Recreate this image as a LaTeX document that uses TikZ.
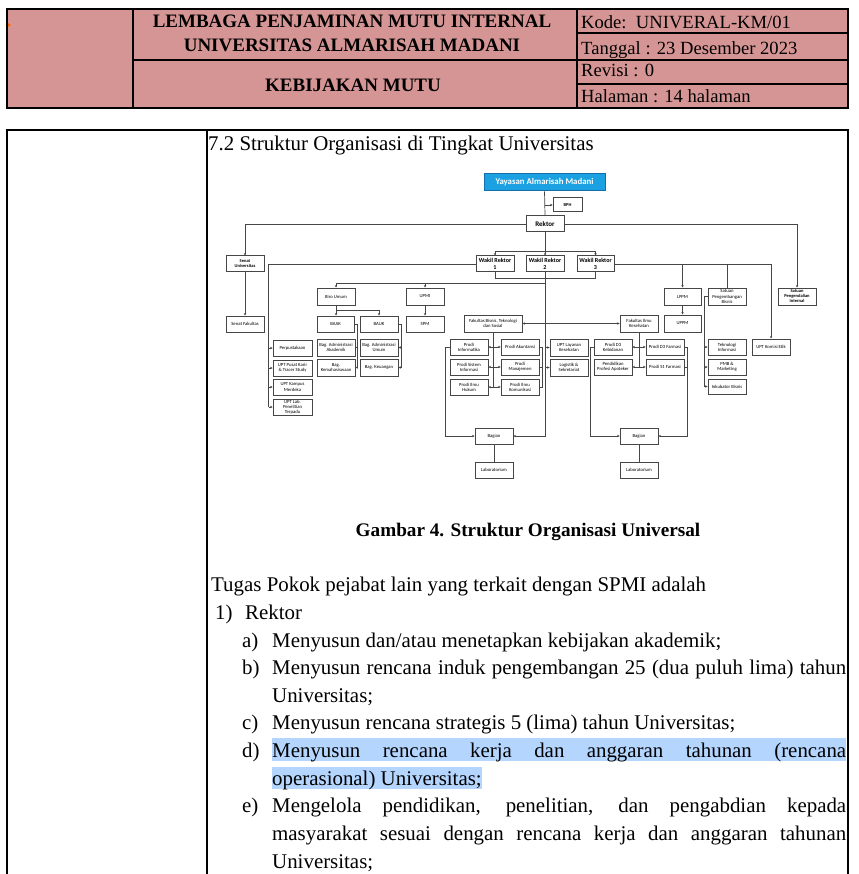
\documentclass[tikz,border=0pt]{standalone}
\usepackage{fontspec}
\setmainfont{Liberation Serif}
\newfontfamily\orgfont{Carlito}
\usetikzlibrary{arrows.meta,calc}
\definecolor{hdr}{RGB}{214,149,149}
\definecolor{yay}{RGB}{27,161,226}
\definecolor{yayb}{RGB}{20,110,170}
\definecolor{hl}{RGB}{180,213,254}
\definecolor{ln}{RGB}{70,70,70}
\newcommand\ob[7][obox]{\node[#1,minimum width={(#5-#3)*1pt},minimum height={(#6-#4)*1pt}] (#2) at ({(#3+#5)/2},{(#4+#6)/2}) {#7};}
\begin{document}
\begin{tikzpicture}[x=1pt,y=-1pt,
 obox/.style={draw=ln,line width=1pt,fill=white,inner sep=0pt,align=center,font=\orgfont\fontsize{4.7}{5.2}\selectfont},
 bbox/.style={obox,font=\orgfont\bfseries\fontsize{4.5}{5}\selectfont},
 wbox/.style={obox,font=\orgfont\bfseries\fontsize{6.1}{6.7}\selectfont},
 con/.style={draw=ln,line width=0.7pt},
 arr/.style={con,-{Stealth[length=2.4pt,width=2.4pt]}},
 tx/.style={inner sep=0pt,anchor=base west,font=\fontsize{20.9}{24}\selectfont},
 hx/.style={inner sep=0pt,anchor=base west,font=\fontsize{18.6}{21}\selectfont},
 hb/.style={inner sep=0pt,anchor=base,font=\bfseries\fontsize{19}{22}\selectfont},
]
\useasboundingbox (0,0) rectangle (858,874);
\fill[white] (0,0) rectangle (858,874);
% ---------- header table ----------
\fill[hdr] (7,9) rectangle (848,108);
\draw[line width=1.3pt] (7,9) rectangle (848,108);
\draw[line width=1.3pt] (133,9) -- (133,108) (577,9) -- (577,108) (133,60) -- (577,60)
  (577,33) -- (848,33) (577,60) -- (848,60) (577,84) -- (848,84);
\fill[orange!80!red] (8,23) -- (11,25) -- (8,27) -- cycle;
\node[hb] (h1) at (352,28) {LEMBAGA PENJAMINAN MUTU INTERNAL};
\node[hb] (h2) at (352,52) {UNIVERSITAS ALMARISAH MADANI};
\node[hb] (h3) at (353,92) {KEBIJAKAN MUTU};
\node[hx] (k1) at (581,29) {Kode:\ \ UNIVERAL-KM/01};
\node[hx] (k2) at (581,55) {Tanggal : 23 Desember 2023};
\node[hx] (k3) at (581,77) {Revisi : 0};
\node[hx] (k4) at (581,103) {Halaman : 14 halaman};
% ---------- body frame ----------
\draw[line width=1.1pt] (7,874) -- (7,130) -- (848,130) -- (848,874);
\draw[line width=1.1pt] (207,130) -- (207,874);
\node[tx] (judul) at (208,151) {7.2 Struktur Organisasi di Tingkat Universitas};
% ---------- org chart boxes ----------
\ob[obox,fill=yay,draw=yayb,font=\orgfont\bfseries\fontsize{8.8}{9.5}\selectfont,text=white]{yay}{484}{174}{605}{191}{Yayasan Almarisah Madani}
\ob[bbox]{bph}{553}{198}{582}{212}{BPH}
\ob[obox,font=\orgfont\bfseries\fontsize{7}{8}\selectfont]{rek}{526}{216}{564}{232}{Rektor}
\ob[bbox]{senu}{226}{256}{264}{272}{Senat\\Universitas}
\ob[wbox]{wr1}{476}{256}{514}{272}{Wakil Rektor\\1}
\ob[wbox]{wr2}{526}{256}{564}{272}{Wakil Rektor\\2}
\ob[wbox]{wr3}{577}{256}{614}{272}{Wakil Rektor\\3}
\ob{biro}{317}{288}{355}{305}{Biro Umum}
\ob{upmi}{406}{288}{444}{305}{UPMI}
\ob{lppm}{664}{288}{701}{305}{LPPM}
\ob{spb}{708}{288}{746}{305}{Satuan\\Pengembangan\\Bisnis}
\ob[bbox]{spi}{778}{288}{816}{305}{Satuan\\Pengendalian\\Internal}
\ob{senf}{226}{316}{264}{332}{Senat Fakultas}
\ob{baak}{317}{316}{354}{332}{BAAK}
\ob{bauk}{360}{316}{398}{332}{BAUK}
\ob{spm}{406}{316}{444}{332}{SPM}
\ob{fbts}{464}{315}{522}{332}{Fakultas Bisnis, Teknologi\\dan Sosial}
\ob{fik}{620}{315}{658}{332}{Fakultas Ilmu\\Kesehatan}
\ob{uppm}{664}{315}{701}{332}{UPPM}
\ob{perp}{273}{340}{312}{356}{Perpustakaan}
\ob{karir}{273}{360}{312}{376}{UPT Pusat Karir\\\& Tracer Study}
\ob{kampus}{273}{379}{312}{395}{UPT Kampus\\Merdeka}
\ob{lab}{273}{399}{312}{415}{UPT Lab.\\Penelitian\\Terpadu}
\ob{bagak}{317}{339}{355}{356}{Bag. Administrasi\\Akademik}
\ob{bagkem}{317}{359}{355}{376}{Bag.\\Kemahasiswaan}
\ob{bagum}{360}{339}{398}{356}{Bag. Administrasi\\Umum}
\ob{bagkeu}{360}{359}{398}{376}{Bag. Keuangan}
\ob{pinf}{450}{339}{488}{355}{Prodi\\Informatika}
\ob{psi}{450}{359}{488}{375}{Prodi Sistem\\Informasi}
\ob{phk}{450}{379}{488}{395}{Prodi Ilmu\\Hukum}
\ob{pak}{501}{339}{539}{355}{Prodi Akuntansi}
\ob{pman}{501}{359}{539}{375}{Prodi\\Manajemen}
\ob{pkom}{501}{379}{539}{395}{Prodi Ilmu\\Komunikasi}
\ob{uptlk}{550}{339}{588}{356}{UPT Layanan\\Kesehatan}
\ob{logis}{550}{359}{588}{376}{Logistik \&\\Sekretariat}
\ob{pkeb}{594}{339}{632}{355}{Prodi D3\\Kebidanan}
\ob{papt}{594}{359}{632}{375}{Pendidikan\\Profesi Apoteker}
\ob{pd3f}{646}{339}{684}{355}{Prodi D3 Farmasi}
\ob{ps1f}{646}{359}{684}{375}{Prodi S1 Farmasi}
\ob{ti}{708}{339}{746}{355}{Teknologi\\Informasi}
\ob{pmb}{708}{359}{746}{375}{PMB \&\\Marketing}
\ob{ink}{708}{379}{746}{394}{Inkubator Bisnis}
\ob{etik}{752}{339}{790}{355}{UPT Komisi Etik}
\ob{bag1}{475}{428}{513}{444}{Bagian}
\ob{lab1}{475}{462}{513}{478}{Laboratorium}
\ob{bag2}{620}{428}{658}{444}{Bagian}
\ob{lab2}{620}{462}{658}{478}{Laboratorium}
% ---------- connectors ----------
\draw[con] (yay.south) -- (rek.north);
\draw[arr] (yay.south |- bph.west) -- (bph.west);
\draw[arr] (rek.west) -| (senu.north);
\draw[arr] (rek.east) -| (spi.north);
\draw[arr] (rek.south) -- (wr2.north);
\coordinate (hw) at ($(wr2.north)+(0,-4)$);
\draw[con] (wr1.north |- hw) -- (wr3.north |- hw);
\draw[arr] (wr1.north |- hw) -- (wr1.north);
\draw[arr] (wr3.north |- hw) -- (wr3.north);
\draw[con] (wr1.south) -- ++(0,6) -| (wr3.south);
\draw[arr] (senu.south) -- (senf.north);
\coordinate (v1) at ($(perp.west)+(-4,0)$);
\draw[con] (wr1.west) -- (wr1.west -| v1) -- (v1 |- lab.west);
\foreach \n in {perp,karir,kampus,lab} \draw[arr] (v1 |- \n.west) -- (\n.west);
\draw[arr] (wr2.south) -- (wr2.south |- bag1.east) -- (bag1.east);
\coordinate (hbr) at ($(biro.north)+(0,-4)$);
\draw[con] (wr2.south |- hbr) -- (biro.north |- hbr);
\draw[arr] (biro.north |- hbr) -- (biro.north);
\draw[arr] (upmi.north |- hbr) -- (upmi.north);
\draw[arr] (wr2.south |- fbts.east) -- (fbts.east);
\draw[arr] (wr2.south |- fik.west) -- (fik.west);
\draw[arr] (wr2.south |- uptlk.west) -- (uptlk.west);
\draw[arr] (wr2.south |- logis.west) -- (logis.west);
\draw[arr] (biro.south) -- (biro.south |- baak.north);
\draw[arr] ($(biro.south)+(0,5)$) -| (bauk.north);
\coordinate (vb) at ($(baak.east)+(3,0)$);
\draw[con] (baak.east) -- (vb) -- (vb |- bagkem.east);
\draw[arr] (vb |- bagak.east) -- (bagak.east);
\draw[arr] (vb |- bagkem.east) -- (bagkem.east);
\coordinate (vu) at ($(bauk.east)+(3,0)$);
\draw[con] (bauk.east) -- (vu) -- (vu |- bagkeu.east);
\draw[arr] (vu |- bagum.east) -- (bagum.east);
\draw[arr] (vu |- bagkeu.east) -- (bagkeu.east);
\draw[arr] (upmi.south) -- (spm.north);
\draw[con] (fbts.south) -- (fbts.south |- phk.east);
\foreach \n in {pinf,psi,phk} \draw[arr] (fbts.south |- \n.east) -- (\n.east);
\foreach \n in {pak,pman,pkom} \draw[arr] (fbts.south |- \n.west) -- (\n.west);
\draw[arr] (pinf.west) -- ++(-4,0) |- (bag1.west);
\coordinate (vr) at ($(pak.east)+(3,0)$);
\draw[con] (pak.east) -- (vr) -- (vr |- pkom.east) -- (pkom.east);
\draw[con] (pman.east) -- (vr |- pman.east);
\draw[con] (fik.south) -- (fik.south |- ps1f.west);
\foreach \n in {pkeb,papt} \draw[arr] (fik.south |- \n.east) -- (\n.east);
\foreach \n in {pd3f,ps1f} \draw[arr] (fik.south |- \n.west) -- (\n.west);
\draw[arr] (pkeb.west) -- ++(-3,0) |- (bag2.west);
\draw[arr] (pd3f.east) -- ++(3,0) |- (bag2.east);
\draw[con] (ps1f.east) -- ++(3,0);
\draw[con] (bag1.south) -- (lab1.north);
\draw[con] (bag2.south) -- (lab2.north);
\draw[arr] (wr3.east) -| (etik.north);
\draw[arr] (lppm.north |- wr3.east) -- (lppm.north);
\draw[con] (spb.north |- wr3.east) -- (spb.north);
\draw[arr] (lppm.south) -- (uppm.north);
\coordinate (vs) at ($(spb.west)+(-3,0)$);
\draw[con] (spb.west) -- (vs) -- (vs |- ink.west);
\foreach \n in {ti,pmb,ink} \draw[arr] (vs |- \n.west) -- (\n.west);
% ---------- caption and text ----------
\node[inner sep=0pt,anchor=base,font=\bfseries\fontsize{19.2}{22}\selectfont] (cap) at (528,536) {Gambar 4. Struktur Organisasi Universal};
\fill[hl] (272,738) rectangle (846,761);
\fill[hl] (272,767) rectangle (482,789);
\node[tx] (t0) at (211,591) {Tugas Pokok pejabat lain yang terkait dengan SPMI adalah};
\node[tx] (n1) at (215,619) {1)};
\node[tx] (n1t) at (245,619) {Rektor};
\node[tx] (la) at (242,647) {a)};
\node[tx] (ta) at (272,647) {Menyusun dan/atau menetapkan kebijakan akademik;};
\node[tx] (lb) at (242,674) {b)};
\node[tx] (tb) at (272,674) {\makebox[574pt][s]{Menyusun rencana induk pengembangan 25 (dua puluh lima) tahun}};
\node[tx] (tb2) at (272,702) {Universitas;};
\node[tx] (lc) at (242,729) {c)};
\node[tx] (tc) at (272,729) {Menyusun rencana strategis 5 (lima) tahun Universitas;};
\node[tx] (ld) at (242,757) {d)};
\node[tx] (td) at (272,757) {\makebox[574pt][s]{Menyusun rencana kerja dan anggaran tahunan (rencana}};
\node[tx] (td2) at (272,785) {operasional) Universitas;};
\node[tx] (le) at (242,812) {e)};
\node[tx] (te) at (272,812) {\makebox[574pt][s]{Mengelola pendidikan, penelitian, dan pengabdian kepada}};
\node[tx] (te2) at (272,840) {\makebox[574pt][s]{masyarakat sesuai dengan rencana kerja dan anggaran tahunan}};
\node[tx] (te3) at (272,868) {Universitas;};
\end{tikzpicture}
\end{document}
